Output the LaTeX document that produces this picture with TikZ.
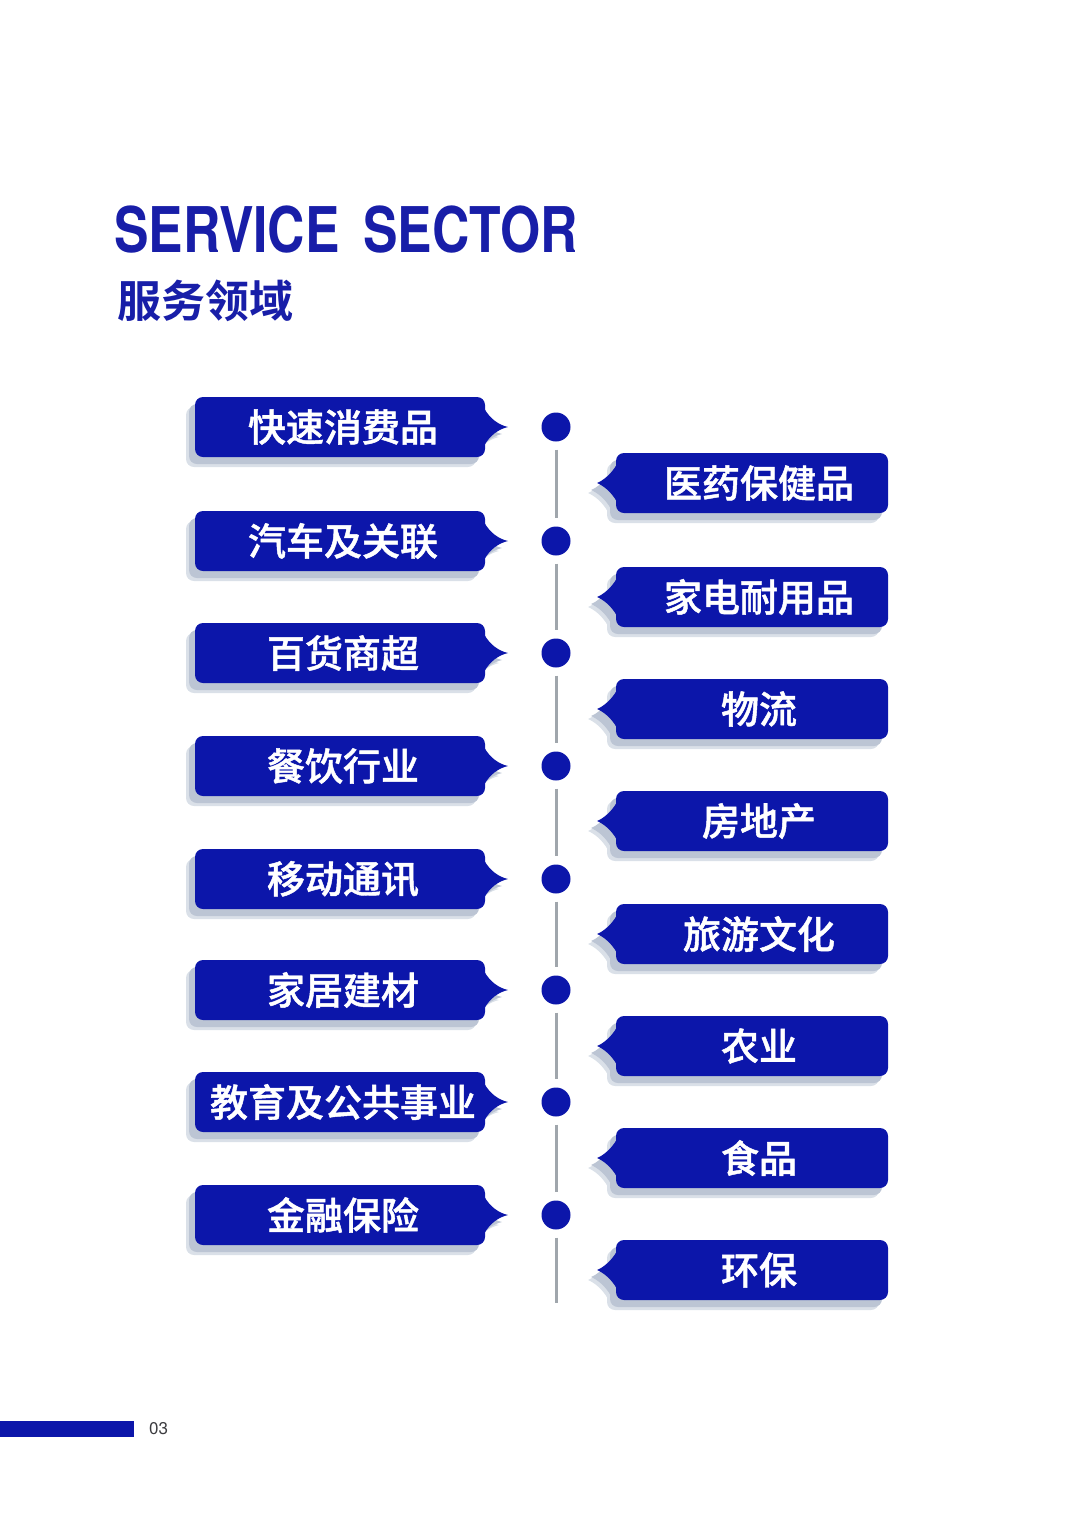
\documentclass[tikz,border=0pt]{standalone}
\usepackage{fontspec}
\usepackage{tikz}
\usetikzlibrary{positioning,calc}
\setmainfont{TeX Gyre Heros}
\newfontfamily\cjk{Noto Sans CJK SC Medium}[FakeBold=1.2]
\newfontfamily\cjkheavy{Noto Sans CJK SC Bold}
\definecolor{sectorblue}{RGB}{12, 22, 170}
\definecolor{titleblue}{RGB}{24, 30, 168}
\definecolor{shadowgrey}{RGB}{188, 197, 212}
\definecolor{shadowhaze}{RGB}{218, 224, 232}
\definecolor{spinegrey}{RGB}{160, 166, 172}
\definecolor{pagegrey}{RGB}{60, 60, 64}

\tikzset{
  itemlabel/.style={text=white, font=\cjk\fontsize{38}{40}\selectfont, inner sep=0pt},
  spinedot/.style={circle, fill=sectorblue, minimum size=29pt, inner sep=0pt},
  spineline/.style={spinegrey, line width=3pt, shorten <=8pt, shorten >=8pt},
}

% outline of the left bubble (pointer to the right), centred on 0
\newcommand{\leftshape}[1]{%
  \fill[#1, rounded corners=8pt] (195,-30) rectangle (485,30);
  \fill[#1] (484,-19) .. controls (490,-8) and (499,-2) .. (508,0) .. controls (499,2) and (490,8) .. (484,19) -- cycle;
}
% outline of the right bubble (pointer to the left)
\newcommand{\rightshape}[1]{%
  \fill[#1, rounded corners=8pt] (616,-30) rectangle (888,30);
  \fill[#1] (617,-19) .. controls (611,-8) and (602,-2) .. (597,0) .. controls (602,2) and (611,8) .. (617,19) -- cycle;
}

% #1 name, #2 centre height, #3 label
\newcommand{\leftbubble}[3]{%
  \begin{scope}[shift={(0,#2)}]
    % soft shadow
    \begin{scope}[shift={(-9,10)}]\leftshape{shadowhaze}\end{scope}
    \begin{scope}[shift={(-6,7)}]\leftshape{shadowgrey}\end{scope}
    \leftshape{sectorblue}
  \end{scope}
  \node[itemlabel] (#1) at (343,#2) {#3};
}
\newcommand{\rightbubble}[3]{%
  \begin{scope}[shift={(0,#2)}]
    \begin{scope}[shift={(-9,10)}]\rightshape{shadowhaze}\end{scope}
    \begin{scope}[shift={(-6,7)}]\rightshape{shadowgrey}\end{scope}
    \rightshape{sectorblue}
  \end{scope}
  \node[itemlabel] (#1) at (759,#2) {#3};
}

\begin{document}
\begin{tikzpicture}[x=1pt, y=-1pt]
    \useasboundingbox (0,0) rectangle (1080,1527);

    % Heading
    \node[anchor=base west, inner sep=0pt, text=titleblue, font=\bfseries\fontsize{63}{70}\selectfont] (title) at (114,252) {\scalebox{0.82}[1]{SERVICE\hspace{29pt}SECTOR}};
    \node[anchor=base west, inner sep=0pt, text=titleblue, font=\cjkheavy\fontsize{44}{48}\selectfont] (subtitle) at (117,317) {服务领域};

    % Left column
    \leftbubble{fmcg}{427}{快速消费品}
    \leftbubble{auto}{541}{汽车及关联}
    \leftbubble{retail}{653}{百货商超}
    \leftbubble{catering}{766}{餐饮行业}
    \leftbubble{telecom}{879}{移动通讯}
    \leftbubble{homebuild}{990}{家居建材}
    \leftbubble{education}{1102}{教育及公共事业}
    \leftbubble{finance}{1215}{金融保险}

    % Right column
    \rightbubble{pharma}{483}{医药保健品}
    \rightbubble{appliance}{597}{家电耐用品}
    \rightbubble{logistics}{709}{物流}
    \rightbubble{realestate}{821}{房地产}
    \rightbubble{tourism}{934}{旅游文化}
    \rightbubble{agriculture}{1046}{农业}
    \rightbubble{food}{1158}{食品}
    \rightbubble{ecology}{1270}{环保}

    % Central spine
    \node[spinedot] (d1) at (556,427) {};
    \node[spinedot] (d2) at (556,541) {};
    \node[spinedot] (d3) at (556,653) {};
    \node[spinedot] (d4) at (556,766) {};
    \node[spinedot] (d5) at (556,879) {};
    \node[spinedot] (d6) at (556,990) {};
    \node[spinedot] (d7) at (556,1102) {};
    \node[spinedot] (d8) at (556,1215) {};
    \coordinate (spineend) at (556,1303);

    \draw[spineline] (d1) -- (d2);
    \draw[spineline] (d2) -- (d3);
    \draw[spineline] (d3) -- (d4);
    \draw[spineline] (d4) -- (d5);
    \draw[spineline] (d5) -- (d6);
    \draw[spineline] (d6) -- (d7);
    \draw[spineline] (d7) -- (d8);
    \draw[spineline, shorten >=0pt] (d8) -- (spineend);

    % Footer
    \fill[sectorblue] (0,1421) rectangle (134,1437);
    \node[anchor=west, inner sep=0pt, text=pagegrey, font=\fontsize{17}{20}\selectfont] (pagenum) at (149,1429) {03};
\end{tikzpicture}
\end{document}
